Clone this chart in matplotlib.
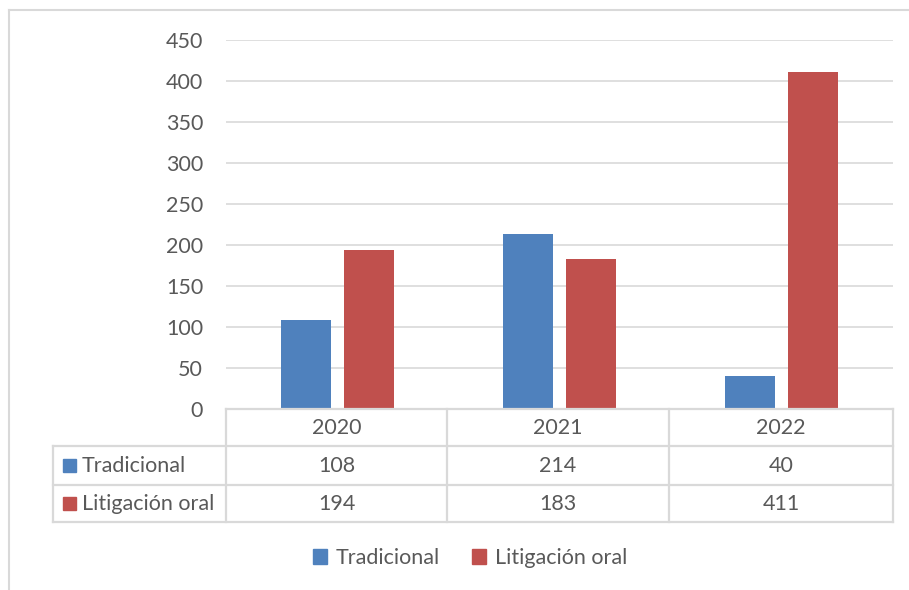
import matplotlib.pyplot as plt
from matplotlib.lines import Line2D
from matplotlib.patches import Rectangle

plt.rcParams['font.family'] = ['Lato', 'DejaVu Sans']

years = ["2020", "2021", "2022"]
series_names = ["Tradicional", "Litigación oral"]
tradicional = [108, 214, 40]
litigacion = [194, 183, 411]
colors = ["#4f81bd", "#c0504d"]
yticks = [0, 50, 100, 150, 200, 250, 300, 350, 400, 450]

W, H = 909, 590
txt = "#595959"
grid = "#d9d9d9"
fs = 15.5


def fx(px):
    return px / W


def fy(py):
    return 1 - py / H


fig = plt.figure(figsize=(W / 100, H / 100), dpi=100)

# outer chart border (only top and left visible)
fig.add_artist(Line2D([fx(9), fx(909)], [fy(10), fy(10)], color=grid, lw=1.5))
fig.add_artist(Line2D([fx(9), fx(9)], [fy(10), fy(590)], color=grid, lw=1.5))

left, right, top, bottom = 226, 893, 40, 409
ax = fig.add_axes([fx(left), fy(bottom), fx(right - left), (bottom - top) / H])

x = list(range(len(years)))
bw = 0.225
off = 0.142
ax.bar([i - off for i in x], tradicional, width=bw, color=colors[0], zorder=3)
ax.bar([i + off for i in x], litigacion, width=bw, color=colors[1], zorder=3)

ax.set_xlim(-0.5, len(years) - 0.5)
ax.set_ylim(0, 450)
ax.set_yticks(yticks)
ax.set_yticklabels([str(v) for v in yticks], fontsize=fs, color=txt)
ax.tick_params(axis='y', length=0, pad=16.5)
ax.set_xticks([])
ax.yaxis.grid(True, color=grid, lw=1.2, zorder=0)
for s in ax.spines.values():
    s.set_visible(False)

# data table
rows_y = [409, 446, 485, 522]
col_x = [226, 447, 669, 893]
lc = grid
lw = 1.6
fig.add_artist(Line2D([fx(226), fx(893)], [fy(409), fy(409)], color=lc, lw=lw))
for yy in rows_y[1:]:
    fig.add_artist(Line2D([fx(53), fx(893)], [fy(yy), fy(yy)], color=lc, lw=lw))
for xx in col_x:
    fig.add_artist(Line2D([fx(xx), fx(xx)], [fy(409), fy(522)], color=lc, lw=lw))
fig.add_artist(Line2D([fx(53), fx(53)], [fy(446), fy(522)], color=lc, lw=lw))

for j, yr in enumerate(years):
    cx = (col_x[j] + col_x[j + 1]) / 2
    fig.text(fx(cx), fy(428), yr, ha='center', va='center', fontsize=fs, color=txt)

table_rows = [tradicional, litigacion]
for r, (name, vals) in enumerate(zip(series_names, table_rows)):
    cy = (rows_y[r + 1] + rows_y[r + 2]) / 2
    fig.add_artist(Rectangle((fx(63), fy(cy + 6.5)), 13 / W, 13 / H,
                             color=colors[r], transform=fig.transFigure))
    fig.text(fx(82), fy(cy), name, ha='left', va='center', fontsize=fs, color=txt)
    for j, v in enumerate(vals):
        cx = (col_x[j] + col_x[j + 1]) / 2
        fig.text(fx(cx), fy(cy), str(v), ha='center', va='center', fontsize=fs, color=txt)

# legend
handles = [Rectangle((0, 0), 1, 1, color=c) for c in colors]
fig.legend(handles, series_names, loc='center', bbox_to_anchor=(fx(470), fy(558)),
           ncol=2, frameon=False, fontsize=fs, labelcolor=txt,
           handlelength=0.65, handleheight=0.65, handletextpad=0.4, columnspacing=1.5)

fig.savefig("out.png", dpi=100)
